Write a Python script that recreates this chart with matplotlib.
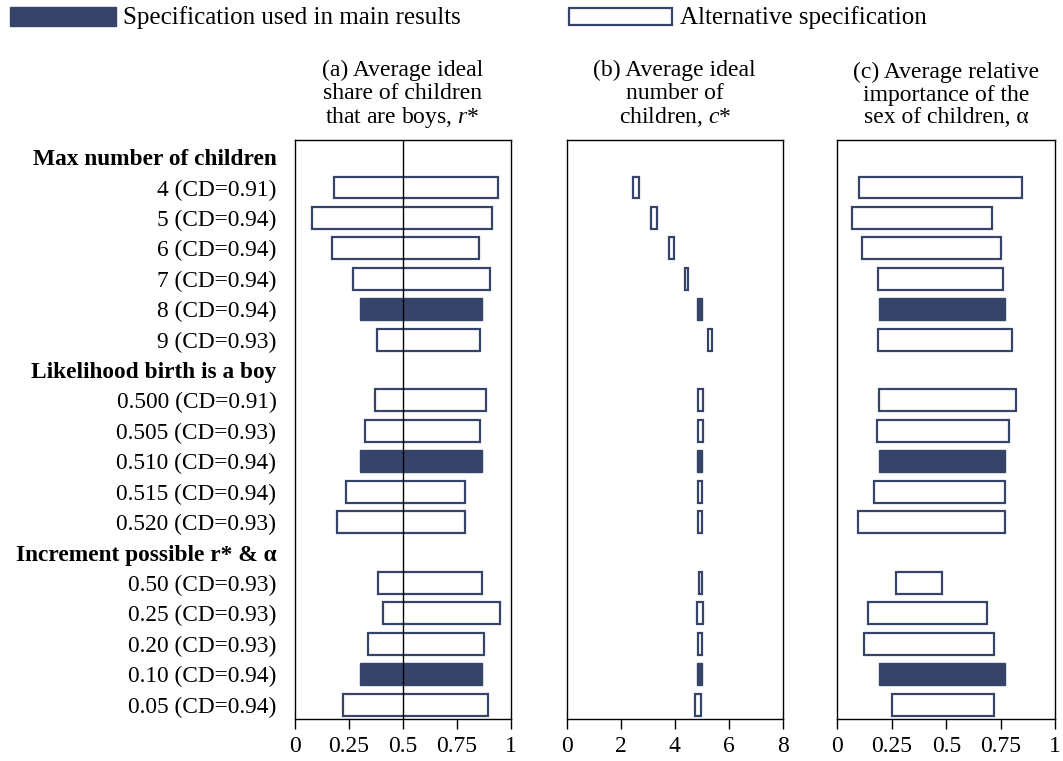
import matplotlib
matplotlib.use("Agg")
import matplotlib.pyplot as plt
from matplotlib.patches import Rectangle

plt.rcParams['font.family'] = ['Liberation Serif', 'DejaVu Serif']
plt.rcParams['mathtext.fontset'] = 'custom'
plt.rcParams['mathtext.rm'] = 'Liberation Serif'
plt.rcParams['mathtext.it'] = 'Liberation Serif:italic'

# ---- data ----
row_labels = ["Max number of children",
              "4 (CD=0.91)", "5 (CD=0.94)", "6 (CD=0.94)", "7 (CD=0.94)", "8 (CD=0.94)", "9 (CD=0.93)",
              "Likelihood birth is a boy",
              "0.500 (CD=0.91)", "0.505 (CD=0.93)", "0.510 (CD=0.94)", "0.515 (CD=0.94)", "0.520 (CD=0.93)",
              "Increment possible r* & α",
              "0.50 (CD=0.93)", "0.25 (CD=0.93)", "0.20 (CD=0.93)", "0.10 (CD=0.94)", "0.05 (CD=0.94)"]
is_header = [True, False, False, False, False, False, False,
             True, False, False, False, False, False,
             True, False, False, False, False, False]
is_main = [False, False, False, False, False, True, False,
           False, False, False, True, False, False,
           False, False, False, False, True, False]

# panel (a) r*: low / high
r_low = [None, 0.183, 0.080, 0.175, 0.269, 0.303, 0.380,
         None, 0.373, 0.328, 0.303, 0.237, 0.197,
         None, 0.385, 0.410, 0.340, 0.303, 0.225]
r_high = [None, 0.944, 0.914, 0.853, 0.905, 0.870, 0.859,
          None, 0.887, 0.861, 0.870, 0.788, 0.788,
          None, 0.870, 0.953, 0.877, 0.870, 0.894]
# panel (b) c*
c_low = [None, 2.46, 3.13, 3.78, 4.39, 4.83, 5.23,
         None, 4.88, 4.85, 4.83, 4.86, 4.86,
         None, 4.91, 4.82, 4.88, 4.83, 4.77]
c_high = [None, 2.66, 3.34, 3.97, 4.51, 5.02, 5.39,
          None, 5.05, 5.05, 5.02, 5.02, 5.02,
          None, 5.02, 5.05, 5.02, 5.02, 4.97]
# panel (c) alpha
a_low = [None, 0.099, 0.066, 0.115, 0.185, 0.193, 0.185,
         None, 0.191, 0.180, 0.193, 0.167, 0.097,
         None, 0.271, 0.139, 0.121, 0.193, 0.249]
a_high = [None, 0.849, 0.711, 0.749, 0.759, 0.771, 0.801,
          None, 0.818, 0.789, 0.771, 0.769, 0.767,
          None, 0.478, 0.687, 0.719, 0.771, 0.721]

titles = ["(a) Average ideal\nshare of children\nthat are boys, $r$*",
          "(b) Average ideal\nnumber of\nchildren, $c$*",
          "(c) Average relative\nimportance of the\nsex of children, α"]
xlims = [(0, 1), (0, 8), (0, 1)]
xticks = [[0, 0.25, 0.5, 0.75, 1], [0, 2, 4, 6, 8], [0, 0.25, 0.5, 0.75, 1]]
xticklabels = [["0", "0.25", "0.5", "0.75", "1"], ["0", "2", "4", "6", "8"],
               ["0", "0.25", "0.5", "0.75", "1"]]
legend_labels = ["Specification used in main results", "Alternative specification"]

NAVY = "#36446a"
FS_LAB = 16.8
FS_TTL = 17
FS_TCK = 17
FS_LEG = 18

fig = plt.figure(figsize=(10.63, 7.61), dpi=100)
W, H = 1063, 761
lefts = [294.5, 566.7, 837.3]
widths = [216, 216, 218]
top_px, bot_px = 140, 719

panels = [(r_low, r_high), (c_low, c_high), (a_low, a_high)]
ypos = list(range(len(row_labels)))

for k in range(3):
    ax = fig.add_axes([lefts[k] / W, 1 - bot_px / H, widths[k] / W, (bot_px - top_px) / H])
    lo, hi = panels[k]
    for i in ypos:
        if lo[i] is None:
            continue
        if is_main[i]:
            ax.barh(i, hi[i] - lo[i], left=lo[i], height=0.72, color=NAVY,
                    edgecolor=NAVY, linewidth=1.0, zorder=2)
        else:
            ax.barh(i, hi[i] - lo[i], left=lo[i], height=0.72, color="white",
                    edgecolor=NAVY, linewidth=1.6, zorder=2)
    if k == 0:
        ax.axvline(0.5, color="black", linewidth=1.0, zorder=3)
    ax.set_xlim(*xlims[k])
    ax.set_ylim(18.47, -0.56)
    ax.set_xticks(xticks[k])
    ax.set_xticklabels(xticklabels[k], fontsize=FS_TCK)
    ax.tick_params(axis='x', direction='out', length=7, width=1, pad=5)
    if k == 0:
        ax.set_yticks(ypos)
        ax.set_yticklabels(row_labels, fontsize=FS_LAB)
        for lab, hdr in zip(ax.get_yticklabels(), is_header):
            if hdr:
                lab.set_fontweight('bold')
        ax.tick_params(axis='y', length=0, pad=13)
    else:
        ax.set_yticks([])
    for sp in ax.spines.values():
        sp.set_linewidth(1.0)
        sp.set_color("black")
    ax.set_title(titles[k], fontsize=FS_TTL, linespacing=1.1, pad=12)

# legend
fig.patches.append(Rectangle((10 / W, 1 - 26 / H), 106 / W, 19 / H, transform=fig.transFigure,
                             facecolor=NAVY, edgecolor=NAVY, linewidth=1))
fig.text(123 / W, 1 - 18 / H, legend_labels[0], fontsize=FS_LEG, va='center', ha='left')
fig.patches.append(Rectangle((569 / W, 1 - 25 / H), 103 / W, 17 / H, transform=fig.transFigure,
                             facecolor="white", edgecolor=NAVY, linewidth=1.6))
fig.text(680 / W, 1 - 18 / H, legend_labels[1], fontsize=FS_LEG, va='center', ha='left')

fig.savefig("out.png", dpi=100)
